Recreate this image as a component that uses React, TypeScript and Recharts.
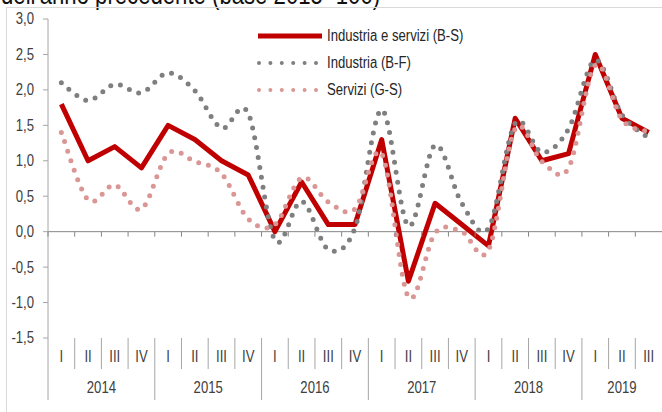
import {
  Legend,
  Line,
  LineChart,
  ReferenceLine,
  XAxis,
  YAxis,
} from "recharts";

const quarters = [
  "I", "II", "III", "IV",
  "I", "II", "III", "IV",
  "I", "II", "III", "IV",
  "I", "II", "III", "IV",
  "I", "II", "III", "IV",
  "I", "II", "III",
];
const years = [
  "2014", "2014", "2014", "2014",
  "2015", "2015", "2015", "2015",
  "2016", "2016", "2016", "2016",
  "2017", "2017", "2017", "2017",
  "2018", "2018", "2018", "2018",
  "2019", "2019", "2019",
];
const industriaServizi = [
  1.8, 1.0, 1.2, 0.9, 1.5, 1.3, 1.0, 0.8, 0.0, 0.7, 0.1, 0.1,
  1.3, -0.7, 0.4, 0.1, -0.2, 1.6, 1.0, 1.1, 2.5, 1.6, 1.4,
];
const industria = [
  2.1, 1.85, 2.08, 1.96, 2.24, 1.99, 1.46, 1.67, -0.12, 0.43, -0.25, 0.05,
  1.72, 0.08, 1.22, 0.4, 0.05, 1.53, 1.12, 1.45, 2.42, 1.65, 1.32,
];
const servizi = [
  1.4, 0.45, 0.66, 0.32, 1.1, 0.99, 0.82, 0.18, 0.1, 0.76, 0.42, 0.32,
  1.1, -0.92, -0.02, 0.0, -0.26, 1.45, 0.99, 0.9, 2.35, 1.58, 1.41,
];
const seriesNames = {
  industriaServizi: "Industria e servizi (B-S)",
  industria: "Industria (B-F)",
  servizi: "Servizi (G-S)",
};
const yTicks = [-1.5, -1, -0.5, 0, 0.5, 1, 1.5, 2, 2.5, 3];

const data = quarters.map((q, i) => ({
  q: `${years[i]}-${q}`,
  industriaServizi: industriaServizi[i],
  industria: industria[i],
  servizi: servizi[i],
}));

const W = 662;
const H = 412;
const TOP = 19;
const LEFT = 48;
const X_AXIS_H = 74;
const PLOT_H = H - TOP - X_AXIS_H;
const PLOT_BOTTOM = TOP + PLOT_H;
const BAND = (W - LEFT) / quarters.length;
const ZERO_Y = TOP + (PLOT_H * 3) / 4.5;

// no narrow font installed, so squeeze Liberation Sans horizontally
const FONT = "'Liberation Sans', Arial, sans-serif";
const SQUEEZE = 0.82;
const TEXT = "#404040";
const AXIS = "#A6A6A6";

const styles: Record<string, { color: string; dash?: string }> = {
  industriaServizi: { color: "#C00000" },
  industria: { color: "#7F7F7F", dash: "0 10" },
  servizi: { color: "#DA9694", dash: "0 10" },
};

// excel-like smoothed line (catmull-rom through the points)
const excelSmooth = (context: any) => {
  let pts: number[][] = [];
  return {
    areaStart() {},
    areaEnd() {},
    lineStart() {
      pts = [];
    },
    point(x: number, y: number) {
      pts.push([+x, +y]);
    },
    lineEnd() {
      if (!pts.length) return;
      context.moveTo(pts[0][0], pts[0][1]);
      for (let i = 0; i < pts.length - 1; i++) {
        const p0 = pts[Math.max(i - 1, 0)];
        const p1 = pts[i];
        const p2 = pts[i + 1];
        const p3 = pts[Math.min(i + 2, pts.length - 1)];
        context.bezierCurveTo(
          p1[0] + (p2[0] - p0[0]) / 6,
          p1[1] + (p2[1] - p0[1]) / 6,
          p2[0] - (p3[0] - p1[0]) / 6,
          p2[1] - (p3[1] - p1[1]) / 6,
          p2[0],
          p2[1]
        );
      }
    },
  };
};

function NarrowText({ x, y, anchor, children }: any) {
  return (
    <text
      transform={`translate(${x},${y}) scale(${SQUEEZE},1)`}
      textAnchor={anchor}
      dominantBaseline="central"
      fill={TEXT}
      fontSize={16}
      fontFamily={FONT}
    >
      {children}
    </text>
  );
}

function YTick(props: any) {
  const { x, y, payload } = props;
  return (
    <NarrowText x={x} y={y} anchor="end">
      {payload.value.toFixed(1).replace(".", ",")}
    </NarrowText>
  );
}

function QuarterTick(props: any) {
  const { x, payload } = props;
  const i = payload.index;
  const left = x - BAND / 2;
  const first = quarters[i] === "I";
  const count = years.filter((y) => y === years[i]).length;
  return (
    <g>
      <line x1={left} x2={left} y1={ZERO_Y} y2={ZERO_Y + 5} stroke="#868686" />
      <line
        x1={left}
        x2={left}
        y1={PLOT_BOTTOM}
        y2={PLOT_BOTTOM + (first ? 62 : 31)}
        stroke={AXIS}
      />
      <NarrowText x={x} y={PLOT_BOTTOM + 19} anchor="middle">
        {quarters[i]}
      </NarrowText>
      {first && (
        <NarrowText x={left + (count * BAND) / 2} y={PLOT_BOTTOM + 50} anchor="middle">
          {years[i]}
        </NarrowText>
      )}
    </g>
  );
}

function LegendBox({ payload }: any) {
  const keys = Object.keys(seriesNames) as (keyof typeof seriesNames)[];
  const items = keys
    .map((k) => (payload || []).find((p: any) => p.dataKey === k))
    .filter(Boolean);
  return (
    <div style={{ fontFamily: FONT, fontSize: 16, color: "#262626" }}>
      {items.map((item: any) => {
        const s = styles[item.dataKey];
        return (
          <div
            key={item.dataKey}
            style={{ display: "flex", alignItems: "center", height: 27 }}
          >
            <svg width={69} height={10} style={{ flex: "none" }}>
              {s.dash ? (
                <line
                  x1={4}
                  x2={62}
                  y1={5}
                  y2={5}
                  stroke={s.color}
                  strokeWidth={4}
                  strokeLinecap="round"
                  strokeDasharray="0 11.4"
                />
              ) : (
                <line x1={3} x2={67} y1={5} y2={5} stroke={s.color} strokeWidth={5} />
              )}
            </svg>
            <span
              style={{
                marginLeft: 3,
                display: "inline-block",
                whiteSpace: "nowrap",
                transform: `scaleX(${SQUEEZE})`,
                transformOrigin: "left center",
              }}
            >
              {item.value}
            </span>
          </div>
        );
      })}
    </div>
  );
}

export default function App() {
  return (
    <div
      style={{
        position: "absolute",
        left: 0,
        top: 0,
        width: W,
        height: H,
        overflow: "hidden",
        background: "#fff",
      }}
    >
      <div
        style={{
          position: "absolute",
          left: 1,
          top: -18,
          fontFamily: FONT,
          fontSize: 27,
          lineHeight: "27px",
          color: "#111",
          whiteSpace: "nowrap",
          transform: `scaleX(${SQUEEZE})`,
          transformOrigin: "left center",
        }}
      >
        dell'anno precedente (base 2015=100)
      </div>
      <div
        style={{
          position: "absolute",
          left: 6,
          top: 7,
          width: W,
          height: H,
          borderLeft: "1px solid #D9D9D9",
          borderTop: "1px solid #D9D9D9",
        }}
      />
      <div style={{ position: "absolute", left: 0, top: 0 }}>
        <LineChart
          width={W}
          height={H}
          data={data}
          margin={{ top: TOP, right: 0, left: 0, bottom: 0 }}
        >
          <XAxis
            dataKey="q"
            height={X_AXIS_H}
            padding={{ left: BAND / 2, right: BAND / 2 }}
            axisLine={false}
            tickLine={false}
            tickSize={0}
            tickMargin={0}
            interval={0}
            tick={<QuarterTick />}
          />
          <YAxis
            width={LEFT}
            domain={[-1.5, 3]}
            ticks={yTicks}
            interval={0}
            stroke={AXIS}
            tickSize={5}
            tickMargin={9}
            tick={<YTick />}
          />
          <ReferenceLine y={0} stroke="#868686" />
          <Legend
            layout="vertical"
            align="center"
            verticalAlign="middle"
            content={<LegendBox />}
            wrapperStyle={{ left: 255, top: 22, width: 260 }}
          />
          <Line
            dataKey="industriaServizi"
            name={seriesNames.industriaServizi}
            type="linear"
            stroke={styles.industriaServizi.color}
            strokeWidth={5}
            strokeLinejoin="round"
            dot={false}
            isAnimationActive={false}
          />
          <Line
            dataKey="industria"
            name={seriesNames.industria}
            type={excelSmooth as any}
            stroke={styles.industria.color}
            strokeWidth={5}
            strokeLinecap="round"
            strokeDasharray={styles.industria.dash}
            dot={false}
            isAnimationActive={false}
          />
          <Line
            dataKey="servizi"
            name={seriesNames.servizi}
            type={excelSmooth as any}
            stroke={styles.servizi.color}
            strokeWidth={5}
            strokeLinecap="round"
            strokeDasharray={styles.servizi.dash}
            dot={false}
            isAnimationActive={false}
          />
        </LineChart>
      </div>
    </div>
  );
}
